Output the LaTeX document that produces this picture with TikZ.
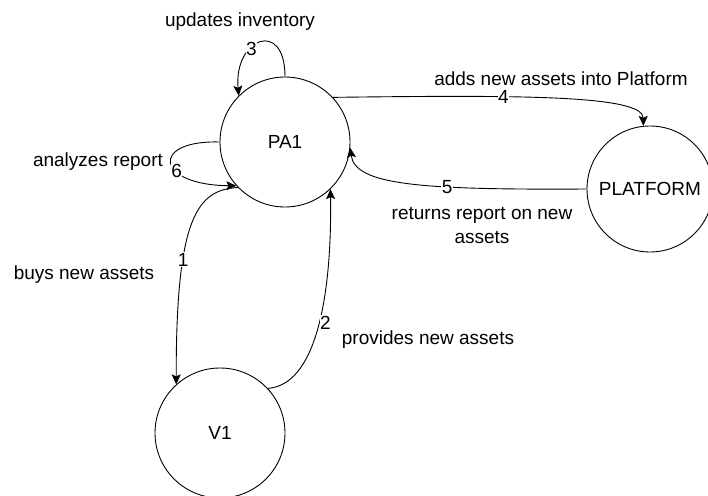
\documentclass[tikz,border=0pt]{standalone}
\usepackage{fontspec}
\setmainfont{Liberation Sans}
\usetikzlibrary{arrows.meta}

\tikzset{
  proc/.style={draw=black, circle, minimum size=130pt, inner sep=0pt},
  flow/.style={draw=black, -{Stealth[length=10pt,width=9pt,inset=2pt]}},
  num/.style={fill=white, inner sep=0.5pt},
  txt/.style={inner sep=1pt},
}

\begin{document}
\begin{tikzpicture}[x=1pt, y=-1pt, line width=0.9pt, font=\fontsize{19}{24}\selectfont]
        \useasboundingbox (0,0) rectangle (708,495);

        \node[proc] (pa1) at (285,142) {PA1};
        \node[proc] (v1) at (220,433) {V1};
        \node[proc, minimum size=126pt] (platform) at (650,189) {PLATFORM};

        \draw[flow] (pa1.90) .. controls +(0,-58) and +(-5,-58) .. node[num, pos=0.62] {3} (pa1.135);
        \draw[flow] (pa1.43) .. controls (520,95) and (643,95) .. node[num, pos=0.35] {4} (platform.96);
        \draw[flow] (platform.180) .. controls (420,190) and (355,185) .. node[num, pos=0.35] {5} (pa1.-5);
        \draw[flow] (pa1.180) .. controls (150,140) and (155,185) .. node[num, pos=0.62] {6} (pa1.222);
        \draw[flow] (pa1.224) .. controls (198,190) and (176,215) .. node[num, pos=0.67] {1} (v1.132);
        \draw[flow] (v1.43) .. controls (315,385) and (332,300) .. node[num, pos=0.53, anchor=west] {2} (pa1.314);

        \node[txt] (upd) at (240,22) {updates inventory};
        \node[txt] (ana) at (98,162) {analyzes report};
        \node[txt] (buy) at (84,275) {buys new assets};
        \node[txt] (prov) at (428,340) {provides new assets};
        \node[txt] (adds) at (561,79) {adds new assets into Platform};
        \node[txt, align=center] (ret) at (482,225) {returns report on new\\assets};

\end{tikzpicture}
\end{document}
